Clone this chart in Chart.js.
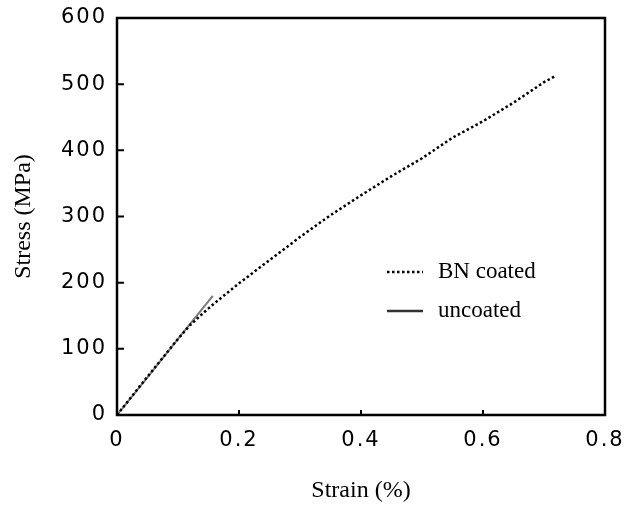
<!DOCTYPE html>
<html>
<head>
<meta charset="utf-8">
<title>Stress vs Strain</title>
<script src="https://cdn.jsdelivr.net/npm/chart.js@4.4.1/dist/chart.umd.min.js"></script>
<style>
  html, body { margin: 0; padding: 0; background: #fff; }
  #wrap { width: 633px; height: 505px; }
</style>
</head>
<body>
<div id="wrap"><canvas id="stressChart" width="633" height="505"></canvas></div>
<script>
// Data
const bnStrain = [0, 0.05, 0.10, 0.12, 0.14, 0.16, 0.18, 0.20, 0.25, 0.30, 0.35, 0.40, 0.45, 0.50, 0.55, 0.60, 0.65, 0.70, 0.72];
const bnStress = [0, 58, 115, 136, 153, 169, 184, 199, 234, 269, 302, 332, 361, 388, 419, 444, 472, 503, 513];
const uncoatedStrain = [0, 0.05, 0.10, 0.157];
const uncoatedStress = [0, 57, 115, 180];
const xTickLabels = ['0', '0.2', '0.4', '0.6', '0.8'];
const yTickLabels = ['0', '100', '200', '300', '400', '500', '600'];
const seriesNames = ['BN coated', 'uncoated'];

const toPoints = (xs, ys) => xs.map((x, i) => ({ x: x, y: ys[i] }));

// frame, inward ticks and the legend inside the plot
const framePlugin = {
  id: 'frame',
  afterDatasetsDraw(chart) {
    chart.ctx.letterSpacing = '2px'; // tick labels are spaced out in the original
  },
  afterDraw(chart) {
    const ctx = chart.ctx;
    const a = chart.chartArea;
    const xs = chart.scales.x, ys = chart.scales.y;
    ctx.save();
    ctx.letterSpacing = '0px';
    ctx.strokeStyle = '#000';
    ctx.lineWidth = 2.5;
    ctx.strokeRect(a.left, a.top, a.right - a.left, a.bottom - a.top);

    ctx.lineWidth = 2;
    ctx.beginPath();
    ys.ticks.forEach(t => {
      const py = ys.getPixelForValue(t.value);
      ctx.moveTo(a.left, py);
      ctx.lineTo(a.left + 7, py);
    });
    xs.ticks.forEach(t => {
      const px = xs.getPixelForValue(t.value);
      ctx.moveTo(px, a.bottom);
      ctx.lineTo(px, a.bottom - 5);
    });
    ctx.stroke();

    // legend
    ctx.font = '23px "Liberation Serif", "Times New Roman", serif';
    ctx.fillStyle = '#000';
    ctx.textBaseline = 'middle';
    ctx.textAlign = 'left';

    ctx.lineWidth = 2.5;
    ctx.setLineDash([2.5, 2.5]);
    ctx.beginPath();
    ctx.moveTo(387, 272);
    ctx.lineTo(423, 272);
    ctx.stroke();
    ctx.fillText(seriesNames[0], 438, 272);

    ctx.setLineDash([]);
    ctx.strokeStyle = '#333';
    ctx.lineWidth = 2.5;
    ctx.beginPath();
    ctx.moveTo(387, 311);
    ctx.lineTo(423, 311);
    ctx.stroke();
    ctx.fillText(seriesNames[1], 438, 311);
    ctx.restore();
  }
};

const tickFont = { family: '"DejaVu Sans", Arial, sans-serif', size: 21 };
const titleFont = { family: '"Liberation Serif", "Times New Roman", serif', size: 24 };

const ctx = document.getElementById('stressChart').getContext('2d');
new Chart(ctx, {
  type: 'scatter',
  data: {
    datasets: [
      {
        label: seriesNames[0],
        data: toPoints(bnStrain, bnStress),
        showLine: true,
        borderColor: '#000',
        borderWidth: 2.5,
        borderDash: [2.5, 2.5],
        pointRadius: 0,
        tension: 0
      },
      {
        label: seriesNames[1],
        data: toPoints(uncoatedStrain, uncoatedStress),
        showLine: true,
        borderColor: '#7a7a7a',
        borderWidth: 2,
        pointRadius: 0,
        tension: 0
      }
    ]
  },
  options: {
    responsive: false,
    animation: false,
    layout: { padding: { left: 0, top: 18, right: 28, bottom: 0 } },
    plugins: {
      legend: { display: false },
      tooltip: { enabled: false }
    },
    scales: {
      x: {
        type: 'linear',
        min: 0,
        max: 0.8,
        afterFit: (scale) => {
          scale.height = 90;
          scale.paddingLeft = 0;
          scale.paddingRight = 0;
        },
        grid: { display: false, drawTicks: false },
        border: { display: false },
        ticks: {
          stepSize: 0.2,
          padding: 13,
          z: 1,
          color: '#000',
          font: tickFont,
          maxRotation: 0,
          callback: (v, i) => xTickLabels[i]
        },
        title: {
          display: true,
          text: 'Strain (%)',
          color: '#000',
          font: titleFont,
          padding: { top: 0, bottom: 0 }
        }
      },
      y: {
        min: 0,
        max: 600,
        afterFit: (scale) => {
          scale.width = 117;
          scale.paddingTop = 0;
          scale.paddingBottom = 0;
        },
        grid: { display: false, drawTicks: false },
        border: { display: false },
        ticks: {
          stepSize: 100,
          padding: 10,
          z: 1,
          color: '#000',
          font: tickFont,
          callback: (v, i) => yTickLabels[i]
        },
        title: {
          display: true,
          text: 'Stress (MPa)',
          color: '#000',
          font: titleFont,
          padding: { top: 9, bottom: 0 }
        }
      }
    }
  },
  plugins: [framePlugin]
});
</script>
</body>
</html>
